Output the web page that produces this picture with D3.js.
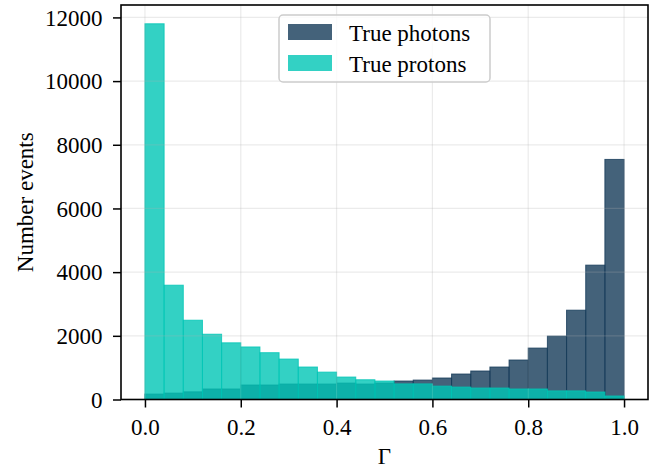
<!DOCTYPE html>
<html>
<head>
<meta charset="utf-8">
<script src="https://cdn.jsdelivr.net/npm/d3@7"></script>
<style>
  body { margin: 0; background: #fff; }
  text { font-family: "Liberation Serif", serif; }
</style>
</head>
<body>
<svg id="drawing_region"></svg>
<script>
// histogram of the classifier output, 25 bins on [0, 1]
const binEdges = [0, 0.04, 0.08, 0.12, 0.16, 0.2, 0.24, 0.28, 0.32, 0.36, 0.4, 0.44, 0.48,
                  0.52, 0.56, 0.6, 0.64, 0.68, 0.72, 0.76, 0.8, 0.84, 0.88, 0.92, 0.96, 1.0];
const photons = [170, 200, 240, 330, 330, 455, 455, 485, 485, 485, 515, 485, 515,
                 580, 610, 675, 800, 895, 1020, 1240, 1615, 1990, 2805, 4220, 7540];
const protons = [11800, 3590, 2490, 2050, 1780, 1650, 1470, 1270, 1020, 860, 705, 620, 580,
                 490, 490, 420, 390, 360, 360, 330, 330, 270, 270, 235, 110];
const seriesNames = ["True photons", "True protons"];
const xTicks = [0, 0.2, 0.4, 0.6, 0.8, 1.0];
const yTicks = [0, 2000, 4000, 6000, 8000, 10000, 12000];

const config = {
    width: 670,
    height: 470,
    margin: {top: 5, right: 22, bottom: 70.5, left: 121}
};

const colors = {
    photons: "rgb(21,59,89)",
    protons: "rgb(0,197,181)"
};
const fontSize = '23px';

const svg = d3.select('#drawing_region')
    .attr('width', config.width)
    .attr('height', config.height);

const inner_width = config.width - config.margin.left - config.margin.right;
const inner_height = config.height - config.margin.top - config.margin.bottom;

const chart = svg.append('g')
    .attr('transform', `translate(${config.margin.left}, ${config.margin.top})`);

const xscale = d3.scaleLinear()
    .domain([-0.05, 1.05])
    .range([0, inner_width]);

const ymax = d3.max(photons.concat(protons)) * 1.05;
const yscale = d3.scaleLinear()
    .domain([0, ymax])
    .range([inner_height, 0]);

const bins = d3.range(photons.length).map(i => ({
    x0: binEdges[i], x1: binEdges[i + 1], photons: photons[i], protons: protons[i]
}));

// bars
chart.append('g').selectAll('rect')
    .data(bins)
    .join('rect')
    .attr('x', d => xscale(d.x0))
    .attr('y', d => yscale(d.photons))
    .attr('width', d => xscale(d.x1) - xscale(d.x0))
    .attr('height', d => yscale(0) - yscale(d.photons))
    .attr('fill', colors.photons)
    .attr('fill-opacity', 0.8)
    .attr('stroke', colors.photons)
    .attr('stroke-opacity', 0.8)
    .attr('stroke-width', 1);

chart.append('g').selectAll('rect')
    .data(bins)
    .join('rect')
    .attr('x', d => xscale(d.x0))
    .attr('y', d => yscale(d.protons))
    .attr('width', d => xscale(d.x1) - xscale(d.x0))
    .attr('height', d => yscale(0) - yscale(d.protons))
    .attr('fill', colors.protons)
    .attr('fill-opacity', 0.8)
    .attr('stroke', colors.protons)
    .attr('stroke-opacity', 0.8)
    .attr('stroke-width', 1);

// grid on top of bars, like matplotlib
const grid = chart.append('g')
    .attr('stroke', '#b0b0b0')
    .attr('stroke-opacity', 0.25)
    .attr('stroke-width', 1.2);
grid.selectAll('.gx')
    .data(xTicks)
    .join('line')
    .attr('x1', d => xscale(d)).attr('x2', d => xscale(d))
    .attr('y1', 0).attr('y2', inner_height);
grid.selectAll('.gy')
    .data(yTicks)
    .join('line')
    .attr('x1', 0).attr('x2', inner_width)
    .attr('y1', d => yscale(d)).attr('y2', d => yscale(d));

// axes
const xaxis = d3.axisBottom(xscale)
    .tickValues(xTicks)
    .tickFormat(d3.format('.1f'))
    .tickSize(8)
    .tickPadding(11);
const yaxis = d3.axisLeft(yscale)
    .tickValues(yTicks)
    .tickFormat(d3.format('d'))
    .tickSize(8)
    .tickPadding(10.5);

const xaxis_group = chart.append('g')
    .attr('transform', `translate(0, ${inner_height})`)
    .call(xaxis);
const yaxis_group = chart.append('g')
    .call(yaxis);

[xaxis_group, yaxis_group].forEach(g => {
    g.select('.domain').remove();
    g.selectAll('.tick line').attr('stroke', '#000').attr('stroke-width', 1.5);
    g.selectAll('.tick text')
        .attr('fill', '#000')
        .attr('font-size', fontSize)
        .attr('font-family', '"Liberation Serif", serif');
});
yaxis_group.selectAll('.tick text').attr('dy', '0.34em');

// spines
chart.append('rect')
    .attr('x', 0).attr('y', 0)
    .attr('width', inner_width).attr('height', inner_height)
    .attr('fill', 'none')
    .attr('stroke', '#000')
    .attr('stroke-width', 1.6);

// axis labels
svg.append('text')
    .attr('x', config.margin.left + xscale(0.5))
    .attr('y', 464)
    .attr('text-anchor', 'middle')
    .attr('font-size', fontSize)
    .text('Γ');

svg.append('text')
    .attr('transform', `translate(33, ${config.margin.top + inner_height / 2}) rotate(-90)`)
    .attr('text-anchor', 'middle')
    .attr('font-size', fontSize)
    .text('Number events');

// legend
const legend = svg.append('g');
legend.append('rect')
    .attr('x', 279).attr('y', 15)
    .attr('width', 211).attr('height', 67)
    .attr('rx', 4)
    .attr('fill', '#fff')
    .attr('fill-opacity', 0.8)
    .attr('stroke', '#cccccc')
    .attr('stroke-width', 1.5);

const legendItems = [
    {name: seriesNames[0], color: colors.photons},
    {name: seriesNames[1], color: colors.protons}
];
const item = legend.selectAll('.item')
    .data(legendItems)
    .join('g')
    .attr('transform', (d, i) => `translate(288, ${24 + i * 31})`);
item.append('rect')
    .attr('width', 44).attr('height', 16)
    .attr('fill', d => d.color)
    .attr('fill-opacity', 0.8);
item.append('text')
    .attr('x', 61)
    .attr('y', 16.5)
    .attr('font-size', fontSize)
    .text(d => d.name);
</script>
</body>
</html>
